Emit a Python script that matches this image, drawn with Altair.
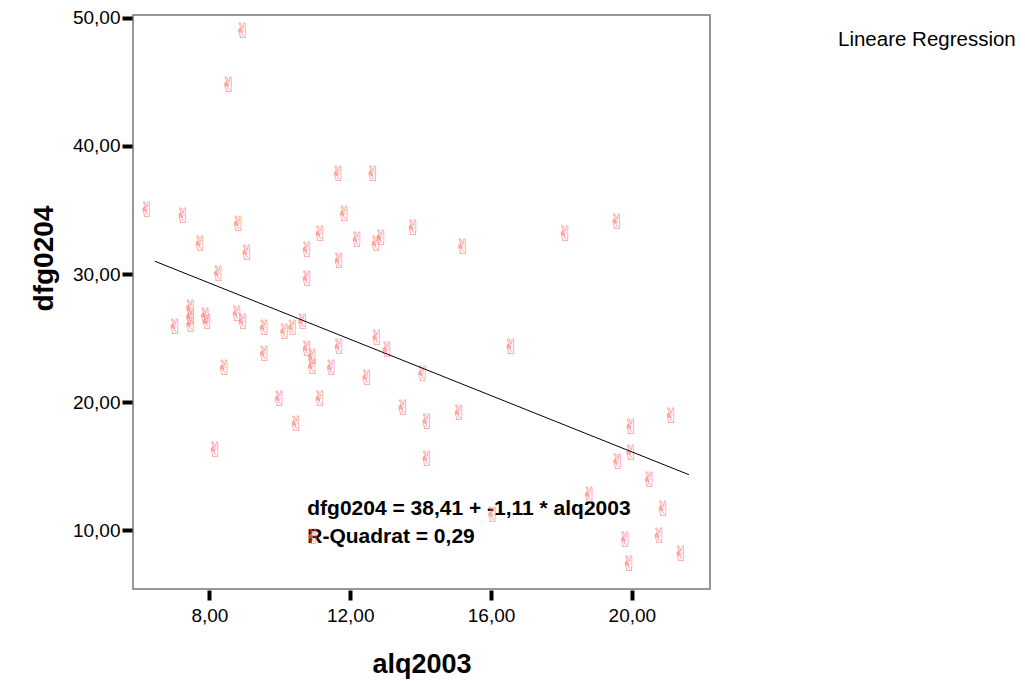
import altair as alt
import pandas as pd

# scatter values
alq2003 = [6.23, 7.25, 7.74, 8.26, 8.95, 8.55, 8.83, 9.07, 7.03, 7.47, 7.47, 7.47,
           7.89, 7.94, 8.43, 8.17, 8.79, 8.96, 9.57, 9.57, 10.14, 10.37, 10.65, 10.78,
           10.93, 10.93, 11.47, 11.69, 11.69, 10.78, 10.78, 11.15, 12.2, 12.74, 12.88,
           11.84, 13.79, 12.76, 13.05, 12.48, 14.06, 9.99, 11.15, 13.5, 10.47, 14.18,
           15.1, 14.18, 11.67, 12.65, 15.2, 18.11, 19.58, 16.57, 19.98, 21.12, 19.98,
           19.6, 20.5, 18.8, 20.89, 16.05, 19.82, 20.78, 21.4, 19.93, 10.95]
dfg0204 = [34.94, 34.42, 32.26, 29.9, 48.9, 44.7, 33.8, 31.6, 25.8, 27.3, 26.6, 25.95,
           26.65, 26.2, 22.56, 16.2, 26.8, 26.2, 25.7, 23.66, 25.4, 25.7, 26.2, 24.1,
           23.47, 22.69, 22.56, 24.25, 30.95, 31.76, 29.5, 33.04, 32.6, 32.26, 32.73,
           34.6, 33.5, 24.9, 24.0, 21.8, 22.1, 20.2, 20.2, 19.5, 18.26, 18.4,
           19.05, 15.5, 37.75, 37.75, 32.07, 33.04, 33.98, 24.25, 18.0, 18.83, 15.97,
           15.26, 13.83, 12.66, 11.62, 11.1, 9.14, 9.45, 8.05, 7.32, 9.4]

# regression line end points
line_x = [6.45, 21.62]
line_y = [31.0, 14.35]

x_ticks = [8, 12, 16, 20]
y_ticks = [10, 20, 30, 40, 50]

annotation_lines = ["dfg0204 = 38,41 + -1,11 * alq2003", "R-Quadrat = 0,29"]
annotation_x = [10.78, 10.78]
annotation_y = [11.21, 9.0]
legend_text = "Lineare Regression"

pts = pd.DataFrame({"alq2003": alq2003, "dfg0204": dfg0204, "sym": ["\u270c"] * len(alq2003)})
line_df = pd.DataFrame({"alq2003": line_x, "dfg0204": line_y})
ann_df = pd.DataFrame({"alq2003": annotation_x, "dfg0204": annotation_y, "t": annotation_lines})

FONT = "Liberation Sans"
lab = "replace(format(datum.value, '.2f'), '.', ',')"

xscale = alt.Scale(domain=[5.83, 22.22], nice=False, zero=False)
yscale = alt.Scale(domain=[5.43, 50.21], nice=False, zero=False)

xaxis = alt.Axis(values=x_ticks, labelExpr=lab, title="alq2003", grid=False, domain=False,
                 tickColor="black", tickWidth=4, tickSize=10, offset=1,
                 labelFont=FONT, labelFontSize=19, labelColor="black", labelPadding=6,
                 titleFont=FONT, titleFontSize=27, titleFontWeight="bold", titleColor="black",
                 titleY=82, titleBaseline="alphabetic")
yaxis = alt.Axis(values=y_ticks, labelExpr=lab, title="dfg0204", grid=False, domain=False,
                 tickColor="black", tickWidth=4, tickSize=10, offset=1,
                 labelFont=FONT, labelFontSize=19, labelColor="black", labelPadding=2,
                 titleFont=FONT, titleFontSize=28, titleFontWeight="bold", titleColor="black",
                 titleX=-88, titleY=243, titleBaseline="middle", titleAngle=270)

ann = alt.Chart(ann_df).mark_text(
    font=FONT, fontSize=21, fontWeight="bold", color="black", align="left", baseline="alphabetic"
).encode(
    x=alt.X("alq2003:Q", scale=xscale, axis=xaxis),
    y=alt.Y("dfg0204:Q", scale=yscale, axis=yaxis),
    text="t:N",
)

points = alt.Chart(pts).mark_text(
    font="DejaVu Sans", fontSize=21, color="#ff7f7f", align="center", baseline="middle"
).encode(
    x=alt.X("alq2003:Q", scale=xscale),
    y=alt.Y("dfg0204:Q", scale=yscale),
    text="sym:N",
)

reg = alt.Chart(line_df).mark_line(color="black", strokeWidth=1).encode(
    x=alt.X("alq2003:Q", scale=xscale),
    y=alt.Y("dfg0204:Q", scale=yscale),
)

legend = alt.Chart(pd.DataFrame({"t": [legend_text]})).mark_text(
    font=FONT, fontSize=20.5, color="black", align="left", baseline="middle", clip=False
).encode(x=alt.value(705), y=alt.value(25), text="t:N")

chart = alt.layer(ann, points, reg, legend).properties(
    width=577, height=574,
    padding={"left": 125, "top": 7, "right": 307, "bottom": 91},
    autosize=alt.AutoSizeParams(type="none"),
).configure_view(stroke="#777777", strokeWidth=1.5)

chart.save("out.html", embed_options={"renderer": "svg", "actions": False})
